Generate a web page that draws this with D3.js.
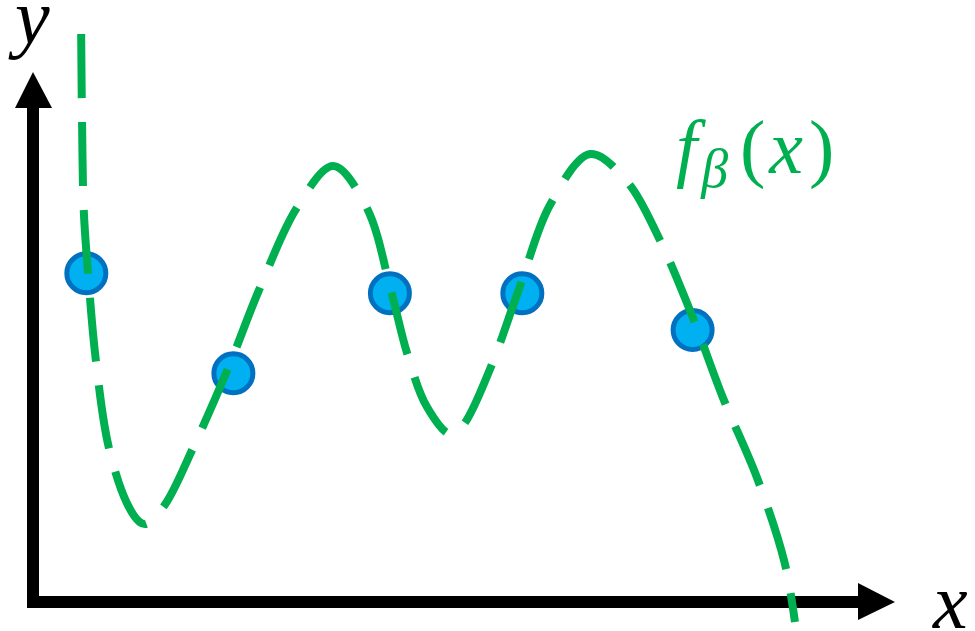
<!DOCTYPE html>
<html>
<head>
<meta charset="utf-8">
<script src="https://cdn.jsdelivr.net/npm/d3@7"></script>
<style>
  body { margin: 0; background: #fff; }
</style>
</head>
<body>
<svg width="975" height="631"></svg>
<script>
// curve f_beta(x)
var curveX = [0.56, 0.57, 0.59, 0.64, 0.73, 0.88, 1.09, 1.24, 1.31, 1.53, 1.85, 2.26, 2.64, 3.07, 3.49, 3.88, 4.17, 4.35, 4.58, 4.85, 5.0, 5.31, 5.66, 6.01, 6.48, 6.91, 7.26, 7.66, 8.02, 8.42, 8.74, 8.86];
var curveY = [7.1, 6.03, 4.9, 4.11, 3.03, 1.94, 1.24, 1.0, 0.975, 1.21, 1.9, 2.9, 3.93, 4.93, 5.45, 4.93, 3.86, 3.11, 2.44, 2.1, 2.21, 2.9, 3.94, 4.96, 5.6, 5.25, 4.59, 3.59, 2.56, 1.55, 0.49, -0.25];

// observed samples
var pointX = [0.62, 2.33, 4.15, 5.69, 7.67];
var pointY = [4.11, 2.86, 3.86, 3.86, 3.4];

var svg = d3.select("svg"),
  width = +svg.attr("width"),
  height = +svg.attr("height");

var green = "#00b050";

var x = d3.scaleLinear().domain([0, 10]).range([33, 893]);
var y = d3.scaleLinear().domain([0, 7]).range([602, 42]);

// axes with arrow heads
var axes = svg.append("g").attr("class", "axes");

axes.append("line")
  .attr("x1", x(0)).attr("y1", y(0) + 6)
  .attr("x2", x(0)).attr("y2", 100)
  .attr("stroke", "#000")
  .attr("stroke-width", 12);

axes.append("line")
  .attr("x1", x(0) - 6).attr("y1", y(0))
  .attr("x2", 862).attr("y2", y(0))
  .attr("stroke", "#000")
  .attr("stroke-width", 12);

axes.append("path")
  .attr("d", "M" + (x(0) - 18) + ",108L" + (x(0) + 19) + ",108L" + x(0) + ",72Z")
  .attr("fill", "#000");

axes.append("path")
  .attr("d", "M858," + (y(0) - 19) + "L858," + (y(0) + 18) + "L" + (x(10) + 2) + "," + y(0) + "Z")
  .attr("fill", "#000");

axes.append("text")
  .attr("x", 15)
  .attr("y", 43)
  .attr("font-family", "'Liberation Serif', serif")
  .attr("font-style", "italic")
  .attr("font-size", 78)
  .text("y");

axes.append("text")
  .attr("x", 933)
  .attr("y", 628)
  .attr("font-family", "'Liberation Serif', serif")
  .attr("font-style", "italic")
  .attr("font-size", 78)
  .text("x");

// sample points
svg.append("g")
  .attr("class", "points")
  .selectAll("circle")
  .data(d3.range(pointX.length))
  .enter()
  .append("circle")
  .attr("cx", function (i) { return x(pointX[i]); })
  .attr("cy", function (i) { return y(pointY[i]); })
  .attr("r", 19.5)
  .attr("fill", "#00b0f0")
  .attr("stroke", "#0070c0")
  .attr("stroke-width", 5);

// dashed curve on top
var line = d3.line()
  .x(function (i) { return x(curveX[i]); })
  .y(function (i) { return y(curveY[i]); })
  .curve(d3.curveCatmullRom.alpha(0.5));

svg.append("path")
  .datum(d3.range(curveX.length))
  .attr("d", line)
  .attr("fill", "none")
  .attr("stroke", green)
  .attr("stroke-width", 8)
  .attr("stroke-dasharray", "64 24");

// label
var lab = svg.append("text")
  .attr("x", 676)
  .attr("y", 173)
  .attr("fill", green)
  .attr("font-family", "'Liberation Serif', serif")
  .attr("font-size", 76);

lab.append("tspan").attr("font-style", "italic").text("f");
lab.append("tspan")
  .attr("font-style", "italic")
  .attr("font-size", 54)
  .attr("dy", 14)
  .attr("dx", 4)
  .text("β");
lab.append("tspan").attr("dy", -14).attr("dx", 12).text("(");
lab.append("tspan").attr("font-style", "italic").attr("dx", 4).text("x");
lab.append("tspan").attr("dx", 6).text(")");
</script>
</body>
</html>
